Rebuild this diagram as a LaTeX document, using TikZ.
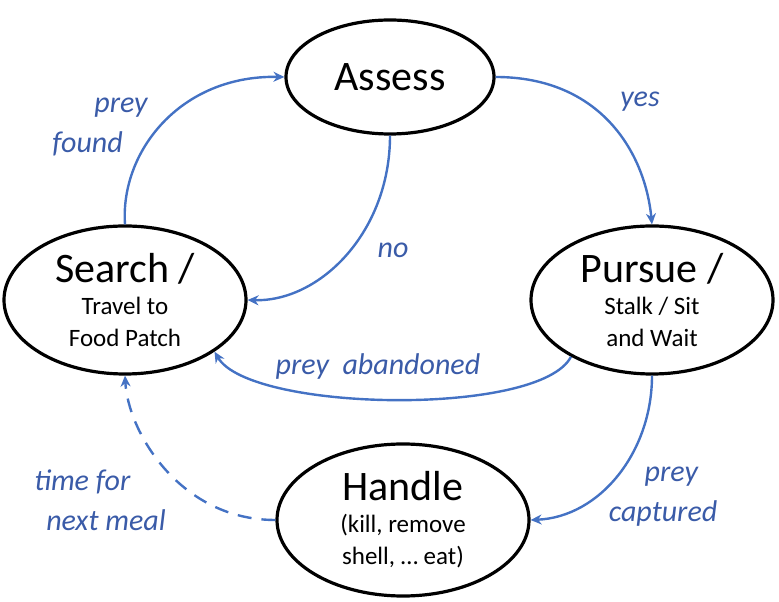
\documentclass[tikz,border=0pt]{standalone}
\usepackage{fontspec}
\setmainfont{Carlito}
\usetikzlibrary{shapes.geometric,arrows.meta}
\definecolor{cl}{HTML}{4472C4}
\definecolor{ct}{HTML}{3A5BA8}
\newcommand{\bigt}[1]{{\fontsize{42}{46}\selectfont #1}}
\tikzset{st/.style={ellipse,draw,line width=3.2pt,align=center,inner sep=0pt,font=\fontsize{25}{32}\selectfont},
 con/.style={draw=cl,line width=2.4pt,-{Stealth[length=11pt,width=10pt]}},
 lab/.style={text=ct,font=\itshape\fontsize{30}{40}\selectfont,align=left}}
\begin{document}
\begin{tikzpicture}[x=1pt,y=1pt]
\useasboundingbox (0,0) rectangle (779,602);
\node[st,minimum width=208pt,minimum height=114pt] (A) at (390,525) {\bigt{Assess}};
\node[st,minimum width=242pt,minimum height=148pt] (S) at (125,302) {\bigt{Search /}\\Travel to\\Food Patch};
\node[st,minimum width=242pt,minimum height=148pt] (P) at (652,302) {\bigt{Pursue /}\\Stalk / Sit\\and Wait};
\node[st,minimum width=252pt,minimum height=152pt] (H) at (403,82) {\bigt{Handle}\\(kill, remove\\shell, … eat)};
\path[con] (S.90) .. controls (120,450) and (180,527) .. (A.west);
\path[con] (A.east) .. controls (600,525) and (645,450) .. (P.north);
\path[con] (A.south) .. controls (390,370) and (320,300) .. (S.east);
\path[con] (P.-145) .. controls (540,185) and (250,190) .. (S.-30);
\path[con] (P.-90) .. controls (652,150) and (600,85) .. (H.east);
\path[con,dashed,dash pattern=on 14pt off 10pt] (H.west) .. controls (180,82) and (128,170) .. (S.-90);
\node[lab] at (100,475) {\hspace{1.4em}prey\\found};
\node[lab] at (640,500) {yes};
\node[lab] at (393,352) {no};
\node[lab] at (378,235) {prey\ \ abandoned};
\node[lab] at (663,105) {\hspace{1.2em}prey\\captured};
\node[lab] at (100,102) {time for\\\hspace{0.4em}next meal};
\end{tikzpicture}
\end{document}
